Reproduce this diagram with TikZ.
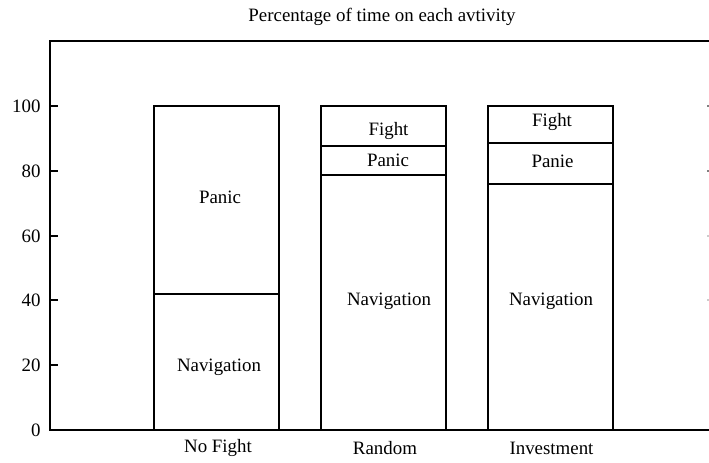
\documentclass[tikz,border=0pt]{standalone}
\usepackage{fontspec}
\setmainfont{Liberation Serif}
\begin{document}
\begin{tikzpicture}[x=0.5pt,y=-0.5pt,
  axis/.style={line width=0.9pt},
  bar/.style={line width=0.75pt},
  lbl/.style={font=\fontsize{9.45}{11}\selectfont, inner sep=0pt},
  ticklbl/.style={lbl, anchor=east},
  ttl/.style={lbl}]
\useasboundingbox (0,0) rectangle (709,462);

% title
\node[ttl] (title) at (382,17) {Percentage of time on each avtivity};

% frame: top, left and bottom lines (right side lies outside the view)
\draw[axis] (709,41) -- (50,41) -- (50,430) -- (709,430);

% y ticks and labels
\foreach \v/\y in {0/430,20/365,40/300,60/236,80/171,100/106}{
  \node[ticklbl] (y\v) at (41,\y) {\v};
}
\foreach \y in {365,300,236,171,106}{
  \draw[axis] (50,\y) -- (58,\y);
}
\foreach \y/\c in {106/gray,171/gray,236/gray!40,300/gray!40}{
  \draw[bar,\c] (707,\y) -- (709,\y);
}

% No Fight bar
\draw[bar] (154,430) rectangle (279,106);
\draw[bar] (154,294) -- (279,294);
\node[lbl] (nfpan) at (220,197) {Panic};
\node[lbl] (nfnav) at (219,367) {Navigation};
\node[lbl] (nfcat) at (218,448) {No Fight};

% Random bar
\draw[bar] (321,430) rectangle (446,106);
\draw[bar] (321,146) -- (446,146);
\draw[bar] (321,175) -- (446,175);
\node[lbl] (rdfig) at (388.5,131) {Fight};
\node[lbl] (rdpan) at (388,160) {Panic};
\node[lbl] (rdnav) at (389,301) {Navigation};
\node[lbl] (rdcat) at (385,448) {Random};

% Investment bar
\draw[bar] (488,430) rectangle (613,106);
\draw[bar] (488,143) -- (613,143);
\draw[bar] (488,184) -- (613,184);
\node[lbl] (ivfig) at (552,122) {Fight};
\node[lbl] (ivpan) at (552.5,161) {Panie};
\node[lbl] (ivnav) at (551,301) {Navigation};
\node[lbl] (ivcat) at (551.5,448) {Investment};
\end{tikzpicture}
\end{document}
